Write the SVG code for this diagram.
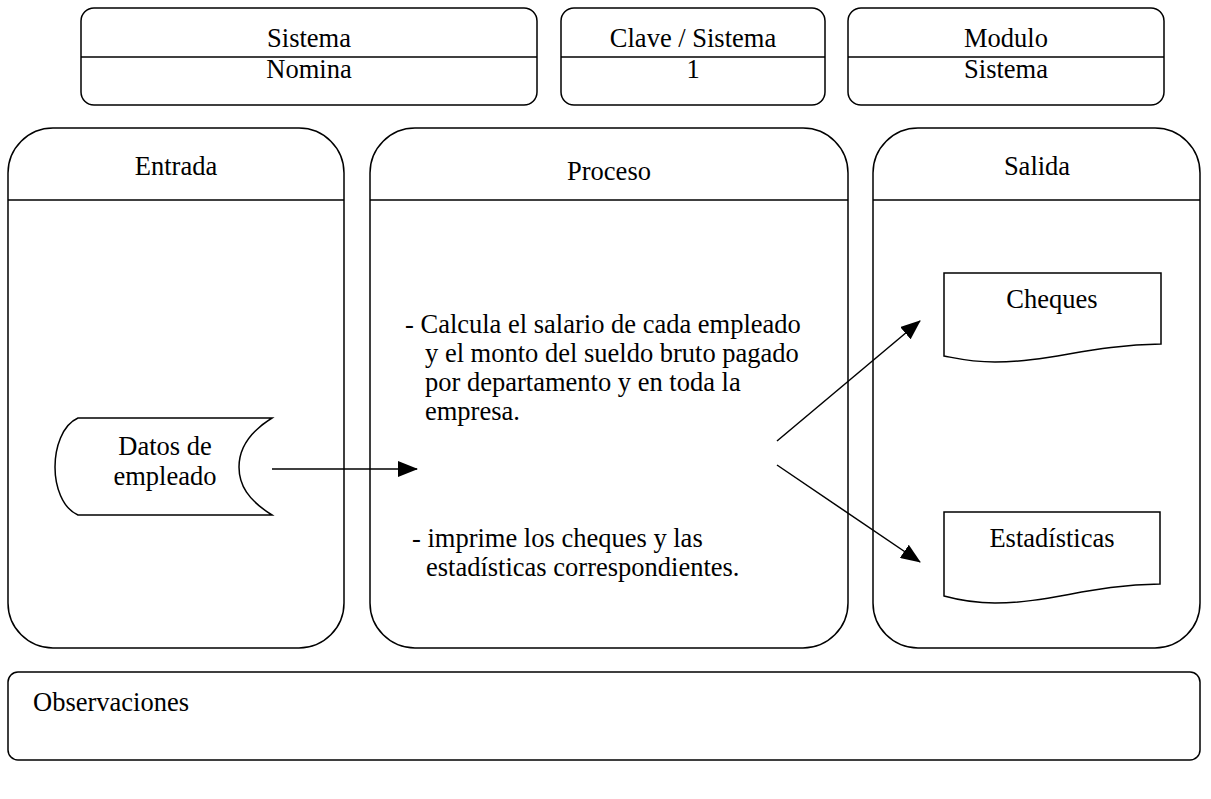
<svg xmlns="http://www.w3.org/2000/svg" width="1211" height="799" viewBox="0 0 1211 799">
<style>
.b{fill:#fff;stroke:#000;stroke-width:1.5}
.l{stroke:#000;stroke-width:1.5;fill:none}
.t{font-family:"Liberation Serif","Times New Roman",serif;font-size:26.5px;fill:#000}
.c{text-anchor:middle}
</style>
<defs>
<marker id="ah2" markerWidth="20" markerHeight="16" refX="19" refY="8" orient="auto" markerUnits="userSpaceOnUse" viewBox="0 0 20 16">
<path d="M0,0 L20,8 L0,16 Z" fill="#000"/>
</marker>
</defs>
<g id="sistema">
<rect class="b" x="81" y="8" width="456" height="97" rx="13"/>
<line class="l" x1="81" y1="57" x2="537" y2="57"/>
<text class="t c" x="309" y="47">Sistema</text>
<text class="t c" x="309" y="78">Nomina</text>
</g>
<g id="clave">
<rect class="b" x="561" y="8" width="264" height="97" rx="13"/>
<line class="l" x1="561" y1="57" x2="825" y2="57"/>
<text class="t c" x="693" y="47">Clave / Sistema</text>
<text class="t c" x="693" y="78">1</text>
</g>
<g id="modulo">
<rect class="b" x="848" y="8" width="316" height="97" rx="13"/>
<line class="l" x1="848" y1="57" x2="1164" y2="57"/>
<text class="t c" x="1006" y="47">Modulo</text>
<text class="t c" x="1006" y="78">Sistema</text>
</g>
<g id="entrada">
<rect class="b" x="8" y="128" width="336" height="520" rx="45"/>
<line class="l" x1="8" y1="200" x2="344" y2="200"/>
<text class="t c" x="176" y="175">Entrada</text>
</g>
<g id="proceso">
<rect class="b" x="370" y="128" width="478" height="520" rx="45"/>
<line class="l" x1="370" y1="200" x2="848" y2="200"/>
<text class="t c" x="609" y="180">Proceso</text>
<text class="t" x="405" y="333">- Calcula el salario de cada empleado</text>
<text class="t" x="425" y="362">y el monto del sueldo bruto pagado</text>
<text class="t" x="425" y="391">por departamento y en toda la</text>
<text class="t" x="425" y="420">empresa.</text>
<text class="t" x="412" y="547">- imprime los cheques y las</text>
<text class="t" x="426" y="576">estadísticas correspondientes.</text>
</g>
<g id="salida">
<rect class="b" x="873" y="128" width="327" height="520" rx="45"/>
<line class="l" x1="873" y1="200" x2="1200" y2="200"/>
<text class="t c" x="1037" y="175">Salida</text>
</g>
<g id="datos">
<path class="b" d="M272,418 H78 C62,425 55,448 55,467 C55,486 62,508 78,515 H272 C248,500 239,485 239,467 C239,449 248,433 272,418 Z"/>
<text class="t c" x="165" y="455">Datos de</text>
<text class="t c" x="165" y="485">empleado</text>
</g>
<g id="cheques">
<path class="b" d="M944,273 H1161 V344 C1090,345 1050,362 995,362 C970,362 955,358 944,356 Z"/>
<text class="t c" x="1052" y="308">Cheques</text>
</g>
<g id="estadisticas">
<path class="b" d="M944,512 H1160 V584 C1090,585 1050,603 995,603 C970,603 955,599 944,596 Z"/>
<text class="t c" x="1052" y="547">Estadísticas</text>
</g>
<g id="observaciones">
<rect class="b" x="8" y="672" width="1192" height="88" rx="10"/>
<text class="t" x="33" y="711">Observaciones</text>
</g>
<g id="connectors">
<line class="l" x1="272" y1="469" x2="417" y2="469" marker-end="url(#ah2)"/>
<line class="l" x1="777" y1="441" x2="920" y2="321" marker-end="url(#ah2)"/>
<line class="l" x1="777" y1="465" x2="920" y2="562" marker-end="url(#ah2)"/>
</g>
</svg>
